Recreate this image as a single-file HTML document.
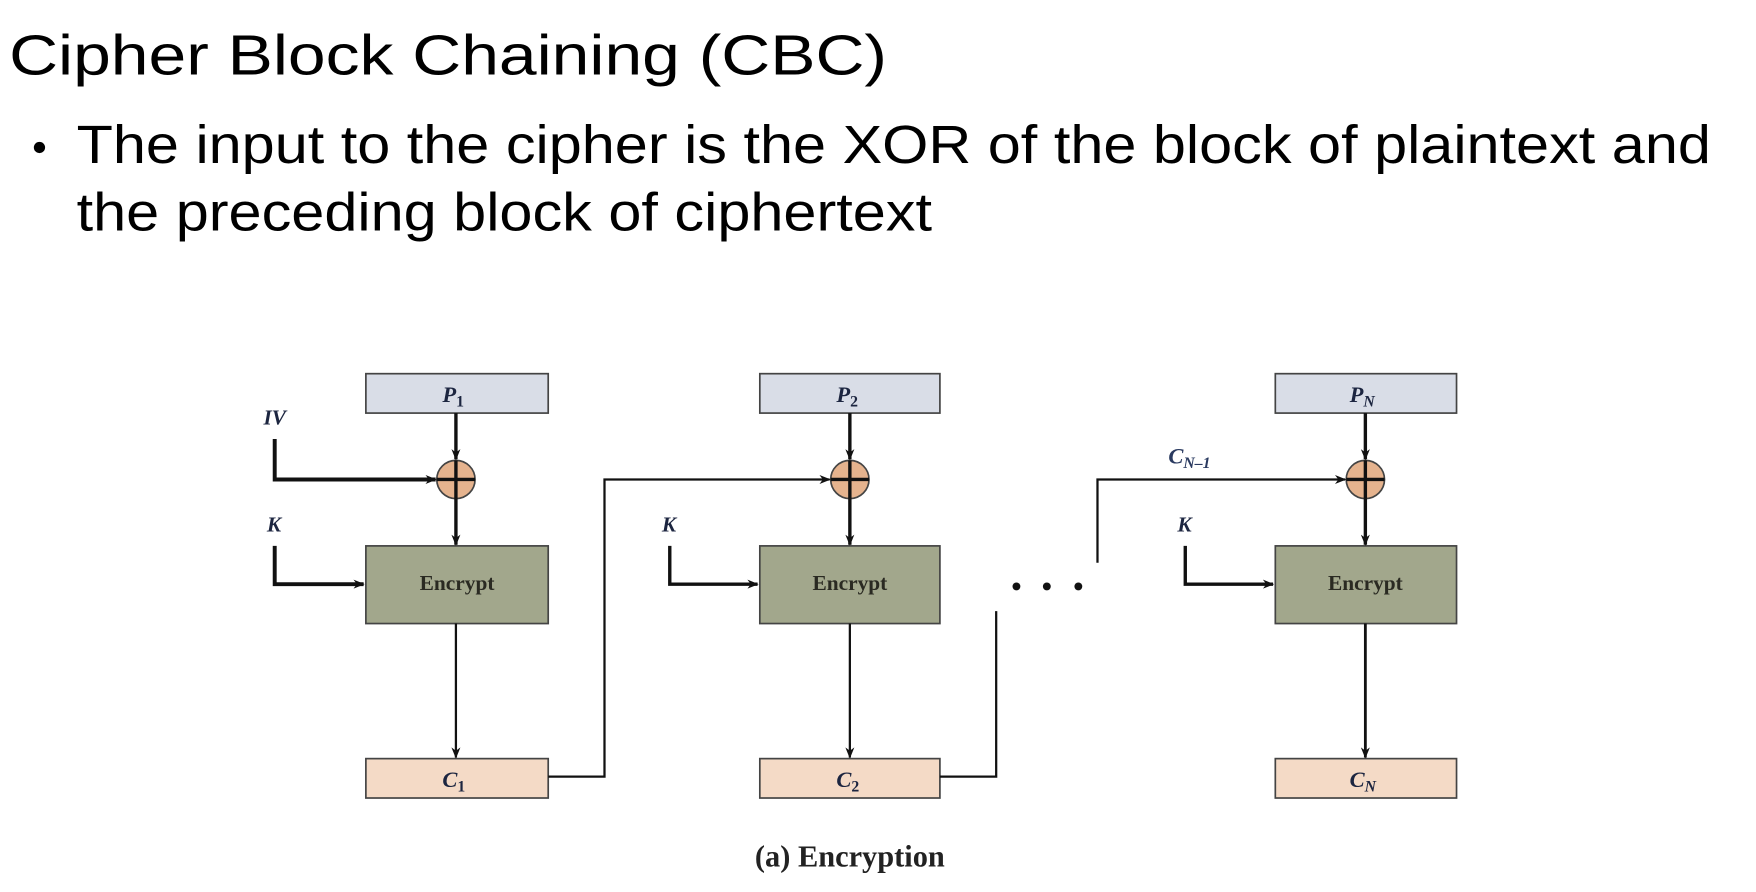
<!DOCTYPE html>
<html><head><meta charset="utf-8"><style>
html,body{margin:0;padding:0;background:#fff;}
svg{display:block;}
</style></head><body>
<svg width="1756" height="892" viewBox="0 0 1560 792.5" xmlns="http://www.w3.org/2000/svg">
<defs>
<marker id="a" markerWidth="10" markerHeight="8" refX="9" refY="4" orient="auto" markerUnits="userSpaceOnUse">
<path d="M0,0 L10,4 L0,8 L3,4 Z" fill="#111"/></marker>
</defs>
<rect width="1560" height="792.5" fill="#fff"/>
<g font-family="Liberation Sans, Arial, sans-serif" fill="#000">
<text x="8" y="66" font-size="50" textLength="780" lengthAdjust="spacingAndGlyphs">Cipher Block Chaining (CBC)</text>
<circle cx="35" cy="131" r="5"/>
<text x="68" y="145" font-size="48" textLength="1452" lengthAdjust="spacingAndGlyphs">The input to the cipher is the XOR of the block of plaintext and</text>
<text x="68" y="205" font-size="48" textLength="760" lengthAdjust="spacingAndGlyphs">the preceding block of ciphertext</text>
</g>
<g stroke="#444" stroke-width="1.5">
<rect x="325" y="332" width="162" height="35" fill="#d9dde7"/>
<rect x="675" y="332" width="160" height="35" fill="#d9dde7"/>
<rect x="1133" y="332" width="161" height="35" fill="#d9dde7"/>
<rect x="325" y="485" width="162" height="69" fill="#a2a78c"/>
<rect x="675" y="485" width="160" height="69" fill="#a2a78c"/>
<rect x="1133" y="485" width="161" height="69" fill="#a2a78c"/>
<rect x="325" y="674" width="162" height="35" fill="#f4dac6"/>
<rect x="675" y="674" width="160" height="35" fill="#f4dac6"/>
<rect x="1133" y="674" width="161" height="35" fill="#f4dac6"/>
<circle cx="405" cy="426" r="17" fill="#e5b38e"/>
<circle cx="755" cy="426" r="17" fill="#e5b38e"/>
<circle cx="1213" cy="426" r="17" fill="#e5b38e"/>
</g>
<g stroke="#111" fill="none" stroke-width="3">
<path d="M388,426 H422 M755,409 V443 M738,426 H772 M1196,426 H1230 M405,409 V443 M1213,409 V443"/>
<path d="M405,367 V408" marker-end="url(#a)"/>
<path d="M755,367 V408" marker-end="url(#a)"/>
<path d="M1213,367 V408" marker-end="url(#a)"/>
<path d="M405,443 V484" marker-end="url(#a)"/>
<path d="M755,443 V484" marker-end="url(#a)"/>
<path d="M1213,443 V484" marker-end="url(#a)"/>
<path d="M244,390 V426 H387" marker-end="url(#a)" stroke-width="3.5"/>
<path d="M244,485 V519 H323" marker-end="url(#a)" stroke-width="3.5"/>
<path d="M595,485 V519 H673" marker-end="url(#a)"/>
<path d="M1053,485 V519 H1131" marker-end="url(#a)"/>
</g>
<g stroke="#111" fill="none" stroke-width="2">
<path d="M405,554 V673" marker-end="url(#a)"/>
<path d="M755,554 V673" marker-end="url(#a)"/>
<path d="M1213,554 V673" marker-end="url(#a)" stroke-width="2.5"/>
<path d="M487,690 H537 V426 H737" marker-end="url(#a)"/>
<path d="M835,690 H885 V543"/>
<path d="M975,500 V426 H1195" marker-end="url(#a)"/>
</g>
<g fill="#111"><circle cx="903" cy="521" r="3.5"/><circle cx="930" cy="521" r="3.5"/><circle cx="958" cy="521" r="3.5"/></g>
<g font-family="Liberation Serif, serif" font-weight="bold" fill="#1c2540">
<text x="393" y="357" font-size="20" font-style="italic">P<tspan font-size="14" font-style="normal" dy="4">1</tspan></text>
<text x="743" y="357" font-size="20" font-style="italic">P<tspan font-size="14" font-style="normal" dy="4">2</tspan></text>
<text x="1199" y="357" font-size="20" font-style="italic">P<tspan font-size="14" dy="4">N</tspan></text>
<text x="393" y="699" font-size="20" font-style="italic">C<tspan font-size="14" font-style="normal" dy="4">1</tspan></text>
<text x="743" y="699" font-size="20" font-style="italic">C<tspan font-size="14" font-style="normal" dy="4">2</tspan></text>
<text x="1199" y="699" font-size="20" font-style="italic">C<tspan font-size="14" dy="4">N</tspan></text>
<text x="1038" y="412" font-size="20" font-style="italic" fill="#2a3a60">C<tspan font-size="14" dy="4">N–1</tspan></text>
<text x="234" y="377" font-size="19" font-style="italic">IV</text>
<text x="237" y="472" font-size="19" font-style="italic">K</text>
<text x="588" y="472" font-size="19" font-style="italic">K</text>
<text x="1046" y="472" font-size="19" font-style="italic">K</text>
<text x="406" y="524" font-size="19" text-anchor="middle" fill="#2a2a22">Encrypt</text>
<text x="755" y="524" font-size="19" text-anchor="middle" fill="#2a2a22">Encrypt</text>
<text x="1213" y="524" font-size="19" text-anchor="middle" fill="#2a2a22">Encrypt</text>
<text x="755" y="770" font-size="27" text-anchor="middle" fill="#222">(a) Encryption</text>
</g>
</svg>
</body></html>
